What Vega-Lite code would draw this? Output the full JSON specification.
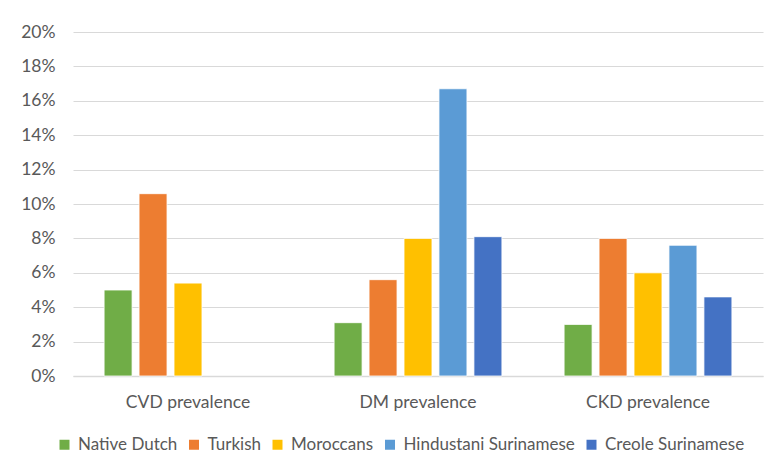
{
  "$schema": "https://vega.github.io/schema/vega-lite/v6.json",
  "autosize": "none",
  "width": 690,
  "height": 344,
  "padding": {"left": 73, "top": 32, "right": 9, "bottom": 94},
  "background": "white",
  "data": {
    "values": [
      {"measure": "CVD prevalence", "group": "Native Dutch", "value": 0.050},
      {"measure": "CVD prevalence", "group": "Turkish", "value": 0.106},
      {"measure": "CVD prevalence", "group": "Moroccans", "value": 0.054},
      {"measure": "DM prevalence", "group": "Native Dutch", "value": 0.031},
      {"measure": "DM prevalence", "group": "Turkish", "value": 0.056},
      {"measure": "DM prevalence", "group": "Moroccans", "value": 0.080},
      {"measure": "DM prevalence", "group": "Hindustani Surinamese", "value": 0.167},
      {"measure": "DM prevalence", "group": "Creole Surinamese", "value": 0.081},
      {"measure": "CKD prevalence", "group": "Native Dutch", "value": 0.030},
      {"measure": "CKD prevalence", "group": "Turkish", "value": 0.080},
      {"measure": "CKD prevalence", "group": "Moroccans", "value": 0.060},
      {"measure": "CKD prevalence", "group": "Hindustani Surinamese", "value": 0.076},
      {"measure": "CKD prevalence", "group": "Creole Surinamese", "value": 0.046}
    ]
  },
  "mark": {"type": "bar", "stroke": "white", "strokeWidth": 0.8},
  "encoding": {
    "x": {
      "field": "measure",
      "type": "nominal",
      "sort": ["CVD prevalence", "DM prevalence", "CKD prevalence"],
      "scale": {"paddingInner": 0.24, "paddingOuter": 0.12},
      "axis": {
        "title": null,
        "labelAngle": 0,
        "ticks": false,
        "domainColor": "#D9D9D9",
        "domainWidth": 1.3,
        "labelPadding": 17,
        "labelFontSize": 17.5,
        "labelColor": "#595959",
        "labelFont": "Lato"
      }
    },
    "xOffset": {
      "field": "group",
      "type": "nominal",
      "sort": ["Native Dutch", "Turkish", "Moroccans", "Hindustani Surinamese", "Creole Surinamese"],
      "scale": {"paddingInner": 0.2, "paddingOuter": 0.1}
    },
    "y": {
      "field": "value",
      "type": "quantitative",
      "scale": {"domain": [0, 0.2], "nice": false},
      "axis": {
        "title": null,
        "format": ".0%",
        "values": [0, 0.02, 0.04, 0.06, 0.08, 0.1, 0.12, 0.14, 0.16, 0.18, 0.2],
        "domain": false,
        "ticks": false,
        "labelPadding": 18,
        "labelFontSize": 17.5,
        "labelColor": "#595959",
        "labelFont": "Lato",
        "gridColor": "#D9D9D9",
        "gridWidth": 1.2
      }
    },
    "color": {
      "field": "group",
      "type": "nominal",
      "sort": ["Native Dutch", "Turkish", "Moroccans", "Hindustani Surinamese", "Creole Surinamese"],
      "scale": {
        "domain": ["Native Dutch", "Turkish", "Moroccans", "Hindustani Surinamese", "Creole Surinamese"],
        "range": ["#70AD47", "#ED7D31", "#FFC000", "#5B9BD5", "#4472C4"]
      },
      "legend": {
        "title": null,
        "orient": "none",
        "legendX": -17,
        "legendY": 404,
        "direction": "horizontal",
        "columns": 5,
        "symbolType": "square",
        "symbolSize": 100,
        "symbolStrokeWidth": 0,
        "labelFontSize": 17,
        "labelLimit": 400,
        "labelColor": "#595959",
        "labelFont": "Lato",
        "labelOffset": 5,
        "columnPadding": 7.5
      }
    }
  },
  "config": {
    "view": {"stroke": null}
  }
}
